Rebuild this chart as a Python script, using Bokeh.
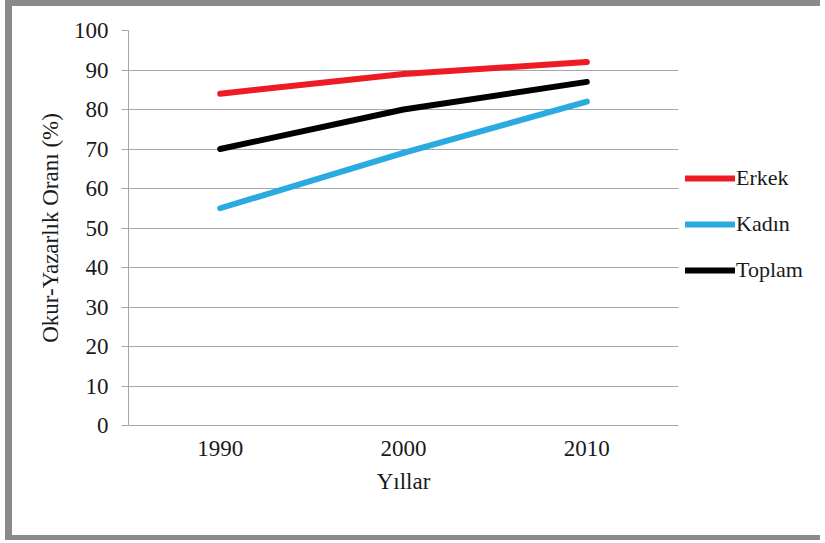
from bokeh.plotting import figure
from bokeh.layouts import row
from bokeh.models import FixedTicker, Range1d, Legend, LegendItem
from bokeh.embed import file_html
from bokeh.resources import INLINE

years = [1990, 2000, 2010]
erkek = [84, 89, 92]
kadin = [55, 69, 82]
toplam = [70, 80, 87]
y_ticks = list(range(0, 101, 10))
series_names = ["Erkek", "Kadın", "Toplam"]
series_colors = ["#ED1C24", "#29ABE2", "#000000"]

FONT = "Liberation Serif"
GRID = "#a6a6a6"
TXT = "#1a1a1a"

p = figure(width=668, height=529, output_backend="svg", toolbar_location=None,
           x_range=Range1d(1985, 2015), y_range=Range1d(0, 100),
           min_border_left=116, min_border_right=2, min_border_top=24, min_border_bottom=110)
p.outline_line_color = None
p.border_fill_color = "white"

for vals, col in zip([erkek, kadin, toplam], series_colors):
    p.line(years, vals, line_color=col, line_width=6, line_cap="round")

p.xaxis.ticker = FixedTicker(ticks=years)
p.yaxis.ticker = FixedTicker(ticks=y_ticks)
p.xgrid.grid_line_color = None
p.ygrid.grid_line_color = GRID
p.ygrid.grid_line_width = 1

for ax in (p.xaxis[0], p.yaxis[0]):
    ax.axis_line_color = GRID
    ax.major_tick_line_color = GRID
    ax.minor_tick_line_color = None
    ax.major_label_text_font = FONT
    ax.major_label_text_font_size = "23px"
    ax.major_label_text_color = TXT
    ax.axis_label_text_font = FONT
    ax.axis_label_text_font_size = "23px"
    ax.axis_label_text_font_style = "normal"
    ax.axis_label_text_color = TXT
    ax.major_tick_in = 0

p.xaxis.major_tick_out = 0
p.xaxis.major_label_standoff = 15
p.xaxis.axis_label = "Yıllar"
p.xaxis.axis_label_standoff = 10
p.yaxis.major_tick_out = 7
p.yaxis.major_label_standoff = 13
p.yaxis.axis_label = "Okur-Yazarlık Oranı (%)"
p.yaxis.axis_label_standoff = 8

# legend panel to the right of the chart (series drawn off-range, only swatches show)
lf = figure(width=140, height=529, output_backend="svg", toolbar_location=None,
            x_range=Range1d(0, 1), y_range=Range1d(0, 1),
            min_border_left=0, min_border_right=0, min_border_top=0, min_border_bottom=0)
lf.axis.visible = False
lf.grid.visible = False
lf.outline_line_color = None
lf.border_fill_color = "white"
items = []
for name, vals, col in zip(series_names, [erkek, kadin, toplam], series_colors):
    rr = lf.line(years, vals, line_color=col, line_width=6, line_cap="round")
    items.append(LegendItem(label=name, renderers=[rr]))
legend = Legend(items=items, location=(5, 142), orientation="vertical",
                label_text_font=FONT, label_text_font_size="22px",
                label_text_color=TXT,
                glyph_width=50, glyph_height=20, label_standoff=1,
                spacing=20, padding=5, margin=0,
                border_line_color=None, background_fill_alpha=0)
lf.add_layout(legend)

layout = row(p, lf)
layout.styles = {"margin-left": "5px",
                 "border-left": "7px solid #8a8a8a",
                 "border-top": "6px solid #8a8a8a",
                 "border-bottom": "5px solid #8a8a8a"}

open("out.html", "w").write(file_html(layout, INLINE))
